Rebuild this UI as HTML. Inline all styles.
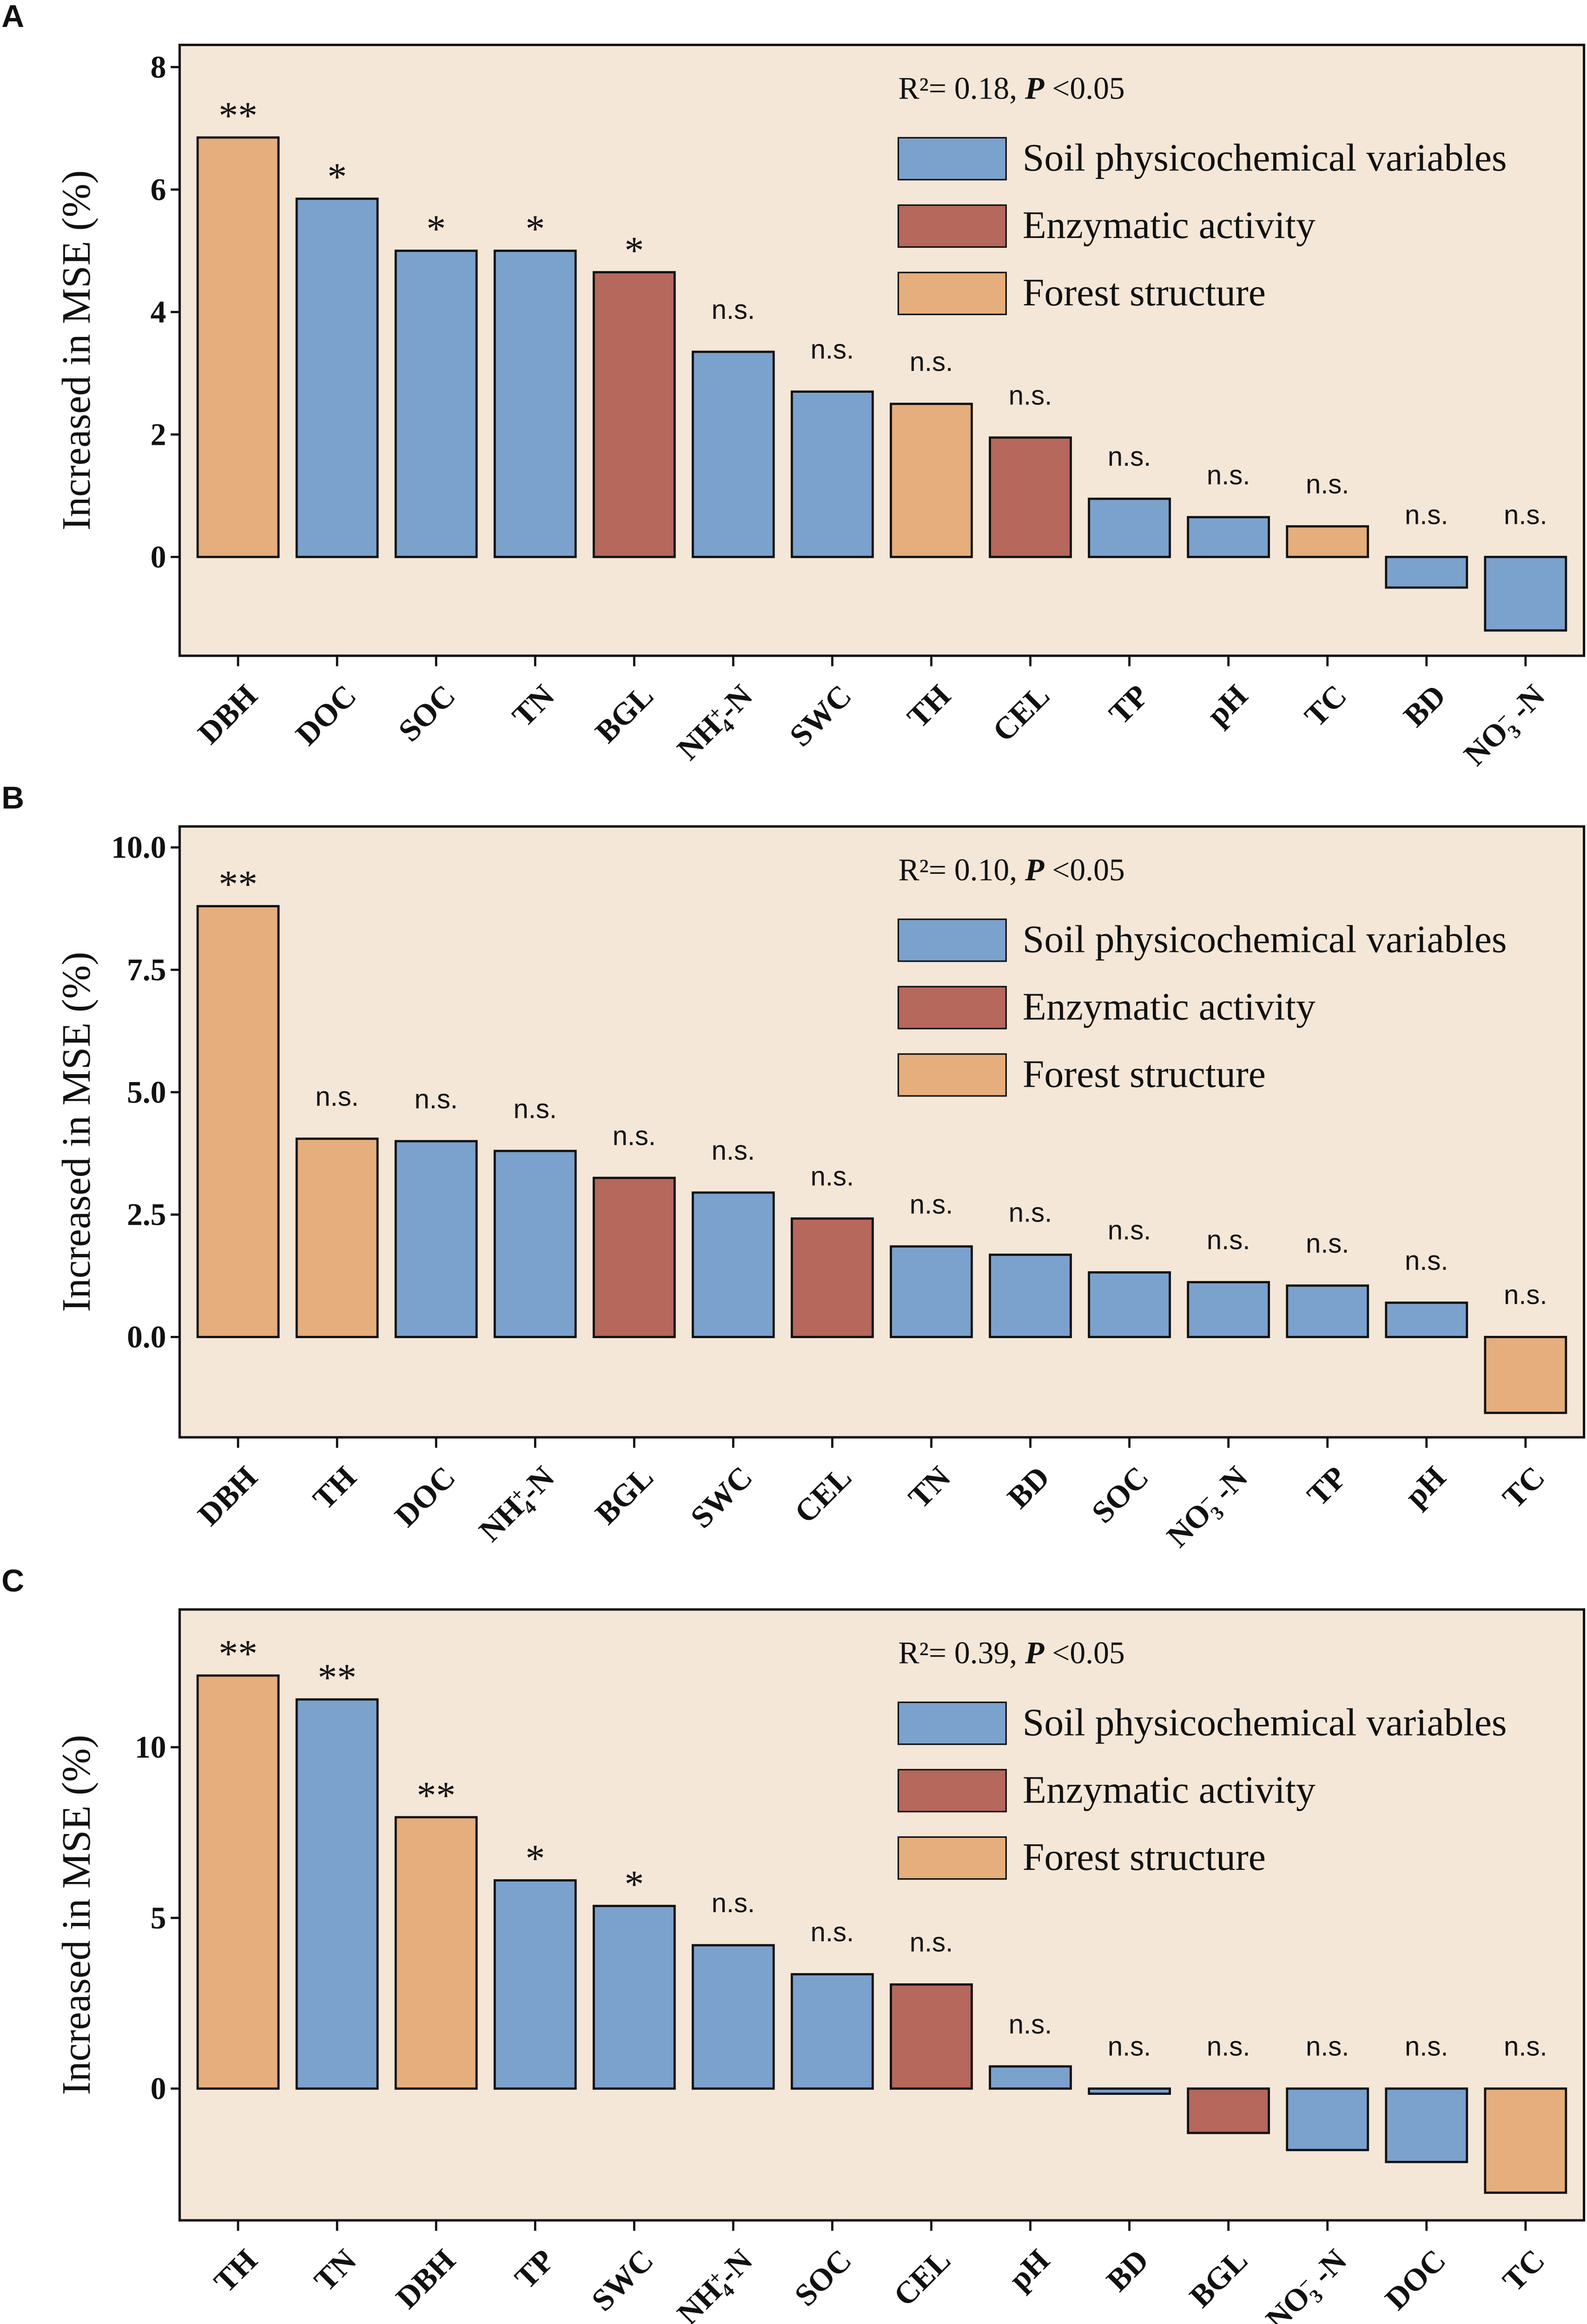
<!DOCTYPE html>
<html><head><meta charset="utf-8"><style>
html,body{margin:0;padding:0;background:#fff;overflow:hidden;}
svg{display:block;}
text{fill:#111;}
</style></head><body>
<svg id="fig" width="3414" height="5054" viewBox="0 0 1060 1569" preserveAspectRatio="none" xmlns="http://www.w3.org/2000/svg" style="font-family:'Liberation Serif',serif"></svg>
<script>
const catsA=["DBH","DOC","SOC","TN","BGL","NH4","SWC","TH","CEL","TP","pH","TC","BD","NO3"];
const valsA=[6.85,5.85,5.0,5.0,4.65,3.35,2.7,2.5,1.95,0.95,0.65,0.5,-0.5,-1.2];
const groupsA=["F","S","S","S","E","S","S","F","E","S","S","F","S","S"];
const sigA=["**","*","*","*","*","n.s.","n.s.","n.s.","n.s.","n.s.","n.s.","n.s.","n.s.","n.s."];
const ticksA=[0,2,4,6,8];
const catsB=["DBH","TH","DOC","NH4","BGL","SWC","CEL","TN","BD","SOC","NO3","TP","pH","TC"];
const valsB=[8.8,4.05,4.0,3.8,3.25,2.95,2.42,1.85,1.68,1.32,1.12,1.05,0.7,-1.55];
const groupsB=["F","F","S","S","E","S","E","S","S","S","S","S","S","F"];
const sigB=["**","n.s.","n.s.","n.s.","n.s.","n.s.","n.s.","n.s.","n.s.","n.s.","n.s.","n.s.","n.s.","n.s."];
const ticksB=[0,2.5,5,7.5,10];
const catsC=["TH","TN","DBH","TP","SWC","NH4","SOC","CEL","pH","BD","BGL","NO3","DOC","TC"];
const valsC=[12.1,11.4,7.95,6.1,5.35,4.2,3.35,3.05,0.65,-0.15,-1.3,-1.8,-2.15,-3.05];
const groupsC=["F","S","F","S","S","S","S","E","S","S","E","S","S","F"];
const sigC=["**","**","**","*","*","n.s.","n.s.","n.s.","n.s.","n.s.","n.s.","n.s.","n.s.","n.s."];
const ticksC=[0,5,10];
const fills={S:"#7aa2cd",E:"#b5685b",F:"#e5ae7c"};
const NS="http://www.w3.org/2000/svg";
const svg=document.getElementById("fig");
const SANS="font-family:'Liberation Sans',sans-serif";
const SERIF="font-family:'Liberation Serif',serif";
function mk(tag,attrs,parent){const e=document.createElementNS(NS,tag);for(const k in attrs)e.setAttribute(k,attrs[k]);(parent||svg).appendChild(e);return e;}
function label(name,txt,x,y,parent){
  const t=mk("text",{x:x,y:y,"font-size":"21","font-weight":"bold","text-anchor":"end",style:SERIF,transform:`rotate(-45 ${x} ${y})`},parent);
  
  
  if(txt==="NH4"){t.innerHTML='NH<tspan font-size="13" dy="5">4</tspan><tspan font-size="13" dx="-7" dy="-12">+</tspan><tspan dy="7">-N</tspan>';}
  else if(txt==="NO3"){t.innerHTML='NO<tspan font-size="13" dy="5">3</tspan><tspan font-size="13" dx="-7" dy="-12">−</tspan><tspan dy="7"> -N</tspan>';}
  else t.textContent=txt;
}
function panel(letter,top,cats,vals,groups,sig,ticks,y0,pxPerUnit,r2,tickFmt){
  const g=mk("g",{});
  
  
  const L=120,R=1058,T=top,B=top+408;
  const yS=v=>y0-v*pxPerUnit;
  const xS=i=>159+i*66.15;
  const pl=mk("text",{x:1,y:top-12,"font-size":"21","font-weight":"bold",style:SANS},g);
    pl.textContent=letter;
  const bg=mk("rect",{x:L,y:T,width:R-L,height:B-T,fill:"#f4e7d7",stroke:"#111","stroke-width":"1.6"},g);
   
  ticks.forEach(t=>{
    const y=yS(t);
    const tl=mk("line",{x1:114,x2:L,y1:y,y2:y,stroke:"#111","stroke-width":"1.5"},g);
     
    const tx=mk("text",{x:111,y:y+7,"font-size":"21","font-weight":"bold","text-anchor":"end",style:SERIF},g);
     
    tx.textContent=tickFmt(t);
  });
  const yt=mk("text",{x:0,y:0,"font-size":"27","text-anchor":"middle",style:SERIF,transform:`translate(60 ${(T+B)/2}) rotate(-90)`},g);
   
  yt.textContent="Increased in MSE (%)";
  cats.forEach((c,i)=>{
    const x=xS(i),v=vals[i];
    const yt0=yS(Math.max(v,0)),yb=yS(Math.min(v,0));
    const bar=mk("rect",{x:x-27,y:yt0,width:54,height:Math.max(yb-yt0,1.5),fill:fills[groups[i]],stroke:"#111","stroke-width":"1.5"},g);
     
    const isStar=sig[i]!=="n.s.";
    const ly=(v>=0?yt0:yS(0))-(isStar?6:22);
    const st=mk("text",{x:x,y:ly,"font-size":isStar?"26":"18","text-anchor":"middle",style:isStar?SERIF:SANS},g);
     
    st.textContent=sig[i];
    const tk=mk("line",{x1:x,x2:x,y1:B,y2:B+7,stroke:"#111","stroke-width":"1.5"},g);
     
    label('x-tick-label',c,x+14,B+28,g);
  });
  const r=mk("text",{x:600,y:T+36,"font-size":"21",style:SERIF},g);
   
  r.innerHTML='R²= '+r2+', <tspan font-style="italic" font-weight="bold">P</tspan> &lt;0.05';
  const leg=[["Soil physicochemical variables","S"],["Enzymatic activity","E"],["Forest structure","F"]];
  leg.forEach((l,k)=>{
    const yy=T+62+k*45;
    const sw=mk("rect",{x:600,y:yy,width:72,height:28,fill:fills[l[1]],stroke:"#111","stroke-width":"1"},g);
     
    const lt=mk("text",{x:683,y:yy+22,"font-size":"26",style:SERIF},g);
     
    lt.textContent=l[0];
  });
}
panel("A",30,catsA,valsA,groupsA,sigA,ticksA,372,40.9,"0.18",t=>String(t));
panel("B",552,catsB,valsB,groupsB,sigB,ticksB,893,32.7,"0.10",t=>t.toFixed(1));
panel("C",1075,catsC,valsC,groupsC,sigC,ticksC,1395,22.8,"0.39",t=>String(t));
</script>
</body></html>
